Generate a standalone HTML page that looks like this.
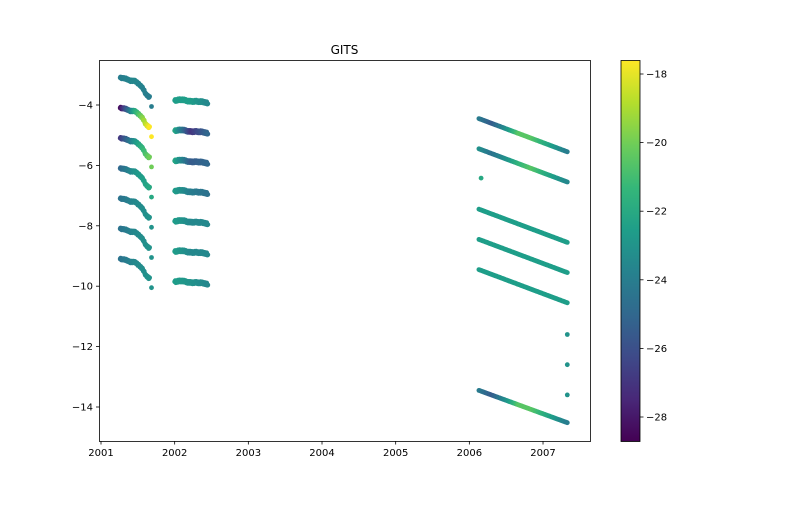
<!DOCTYPE html>
<html><head><meta charset="utf-8">
<style>
body{margin:0;background:#fff;}
svg text{font-family:"DejaVu Sans","Liberation Sans",sans-serif;font-size:10px;fill:#000;}
</style></head>
<body>
<svg id="chart" width="792" height="504" viewBox="0 0 792 504" xmlns="http://www.w3.org/2000/svg">
<rect width="792" height="504" fill="#fff"/>
<text x="344.5" y="54" text-anchor="middle" style="font-size:12px">GITS</text>
<g id="marks"></g>
<rect x="99.5" y="60.5" width="491" height="381" fill="none" stroke="#000" stroke-width="0.8"/>
<g id="axes"></g>
<defs><linearGradient id="cbg" x1="0" y1="1" x2="0" y2="0"></linearGradient></defs>
<rect id="cbar" x="621" y="60.5" width="19" height="381" fill="url(#cbg)"/>
<rect x="621" y="60.5" width="19" height="381" fill="none" stroke="#000" stroke-width="0.8"/>
</svg>
<script>
// axis ticks
const xTicks=[2001,2002,2003,2004,2005,2006,2007];
const yTicks=[-4,-6,-8,-10,-12,-14];
const cTicks=[-18,-20,-22,-24,-26,-28];
// left cluster A: shared time knots, offsets from start value
const aDates=[2001.26,2001.33,2001.40,2001.46,2001.52,2001.57,2001.61,2001.66];
const aOffsets=[0,0.02,0.1,0.1,0.22,0.35,0.55,0.65];
const aStarts=[-3.1,-4.1,-5.1,-6.1,-7.1,-8.1,-9.1];
const aColorStart=[-24,-28.5,-27,-25,-24.5,-24.5,-24.5];
const aColorMid=[-23.5,-22,-23,-23,-23.5,-23.5,-23.5];
const aColorEnd=[-24,-17.5,-20,-22,-23,-23,-23];
const aLoneDate=2001.685;
const aLoneOffset=0.95;
// cluster B
const bDates=[2002.0,2002.1,2002.2,2002.3,2002.4,2002.45];
const bOffsets=[0.75,0.72,0.78,0.78,0.8,0.85];
const bColorStart=[-22.5,-22,-22,-22.5,-22.5,-22.5,-22.5];
const bColorMid=[-22.5,-27,-25.5,-24,-23.5,-23.5,-23];
const bColorEnd=[-23.5,-25,-25,-24.5,-23.5,-23.5,-23.5];
// right tracks
const rStartDate=2006.13, rEndDate=2007.33;
const rStarts=[-4.45,-5.45,-7.45,-8.45,-9.45,-13.45];
const rEnds=[-5.55,-6.55,-8.55,-9.55,-10.55,-14.52];
const rColorKnots=[0,0.15,0.32,0.45,0.6,0.78,1];
const rColors=[
 [-24,-25.5,-23,-20.5,-20.5,-22,-24],
 [-23,-24.5,-23,-21.5,-20.5,-22,-23.5],
 [-22.5,-22.5,-22.5,-22.5,-22.5,-22.5,-22.5],
 [-22.5,-22.5,-22.5,-22.5,-22.5,-22.5,-22.5],
 [-22.5,-22.5,-22.5,-22.5,-22.5,-22.5,-22.5],
 [-24,-25.5,-23,-20.5,-20.5,-22,-24]];
// isolated points
const isoDates=[2006.16,2007.33,2007.33,2007.33];
const isoValues=[-6.42,-11.6,-12.6,-13.6];
const isoColors=[-22,-23,-23,-23];

const X=d=>101+(d-2001)*73.67;
const Y=v=>105-(v+4)*30.2;
const CY=c=>74+(-18-c)*34.3;
const vir=[[68,1,84],[72,40,120],[62,74,137],[49,104,142],[38,130,142],[31,158,137],[53,183,121],[109,205,89],[180,222,44],[253,231,37]];
const cmin=-28.7,cmax=-17.55;
function col(c){let t=Math.max(0,Math.min(1,(c-cmin)/(cmax-cmin)))*(vir.length-1);let i=Math.min(vir.length-2,Math.floor(t)),f=t-i;
 const a=vir[i],b=vir[i+1];return `rgb(${a.map((v,k)=>Math.round(v+(b[k]-v)*f)).join(',')})`;}
const NS="http://www.w3.org/2000/svg";
const marks=document.getElementById('marks');
function dot(d,v,c,name){const e=document.createElementNS(NS,'circle');
 e.setAttribute('cx',X(d).toFixed(1));e.setAttribute('cy',Y(v).toFixed(1));e.setAttribute('r',2.4);e.setAttribute('fill',col(c));
 
 
 marks.appendChild(e);}
function lerp(xs,ys,x){for(let i=0;i<xs.length-1;i++){if(x<=xs[i+1]){const f=(x-xs[i])/(xs[i+1]-xs[i]);return ys[i]+(ys[i+1]-ys[i])*f;}}return ys[ys.length-1];}
aStarts.forEach((s,k)=>{const d0=aDates[0],d1=aDates[aDates.length-1];
 for(let i=0;i<=60;i++){const d=d0+(d1-d0)*i/60;const v=s-lerp(aDates,aOffsets,d);const t=i/60;
  const c=t<0.5?aColorStart[k]+(aColorMid[k]-aColorStart[k])*t*2:aColorMid[k]+(aColorEnd[k]-aColorMid[k])*(t-0.5)*2;
  dot(d,v+Math.sin(i*1.7)*0.03,c,'cluster-a-point');}
 dot(aLoneDate,s-aLoneOffset,aColorEnd[k],'cluster-a-lone-point');
 const b0=bDates[0],b1=bDates[bDates.length-1];
 for(let i=0;i<=60;i++){const d=b0+(b1-b0)*i/60;const v=s-lerp(bDates,bOffsets,d);const t=i/60;
  const c=t<0.5?bColorStart[k]+(bColorMid[k]-bColorStart[k])*t*2:bColorMid[k]+(bColorEnd[k]-bColorMid[k])*(t-0.5)*2;
  dot(d,v+Math.sin(i*2.3)*0.04,c,'cluster-b-point');}
});
rStarts.forEach((s,k)=>{for(let i=0;i<=90;i++){const t=i/90;const d=rStartDate+(rEndDate-rStartDate)*t;
 dot(d,s+(rEnds[k]-s)*t,lerp(rColorKnots,rColors[k],t),'track-point');}});
isoDates.forEach((d,i)=>dot(d,isoValues[i],isoColors[i],'isolated-point'));

const axes=document.getElementById('axes');
function add(tag,attrs,name,txt){const e=document.createElementNS(NS,tag);for(const k in attrs)e.setAttribute(k,attrs[k]);
 
 
 if(txt!==undefined)e.textContent=txt;axes.appendChild(e);}
xTicks.forEach(t=>{const x=X(t);add('line',{x1:x,x2:x,y1:441,y2:444.5,stroke:'#000','stroke-width':0.8},'x-tick');
 add('text',{x:x,y:456,'text-anchor':'middle'},'x-tick-label',String(t));});
yTicks.forEach(t=>{const y=Y(t);add('line',{x1:96,x2:99.5,y1:y,y2:y,stroke:'#000','stroke-width':0.8},'y-tick');
 add('text',{x:93,y:y+3.5,'text-anchor':'end'},'y-tick-label',String(t).replace('-','\u2212'));});
cTicks.forEach(t=>{const y=CY(t);add('line',{x1:640,x2:643.5,y1:y,y2:y,stroke:'#000','stroke-width':0.8},'colorbar-tick');
 add('text',{x:646,y:y+3.5},'colorbar-tick-label',String(t).replace('-','\u2212'));});
const g=document.getElementById('cbg');
vir.forEach((c,i)=>{const s=document.createElementNS(NS,'stop');s.setAttribute('offset',i/(vir.length-1));s.setAttribute('stop-color',`rgb(${c.join(',')})`);g.appendChild(s);});
</script>
</body></html>
